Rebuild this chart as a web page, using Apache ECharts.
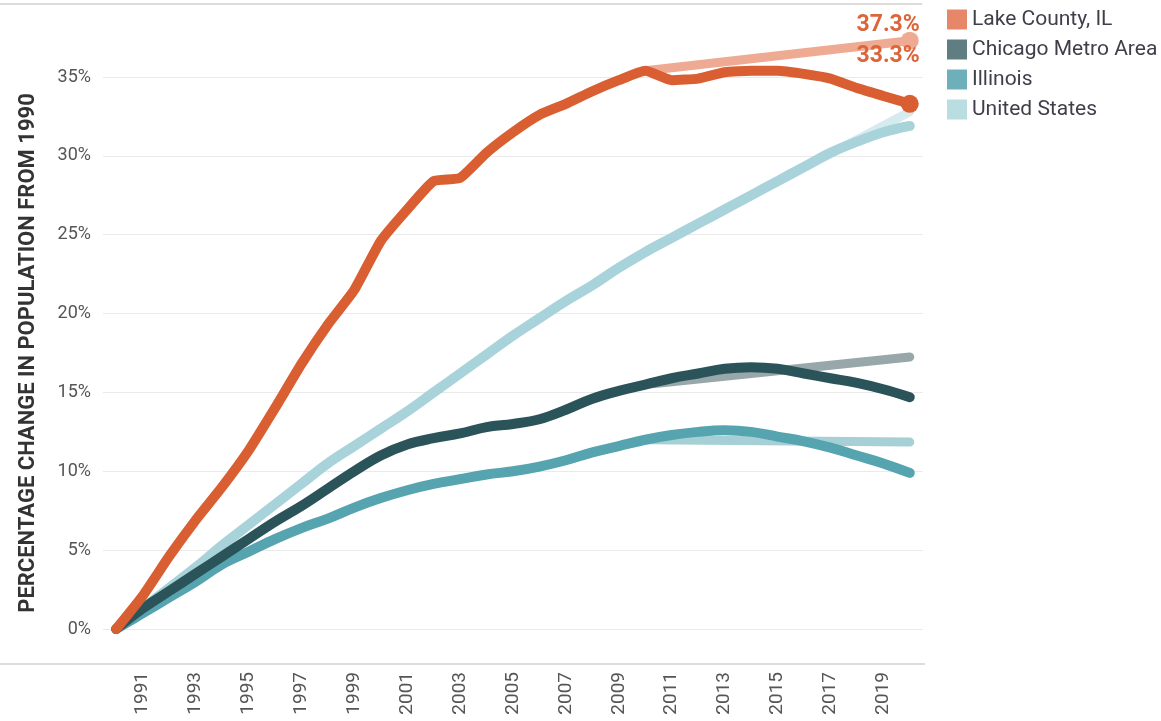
<!DOCTYPE html>
<html style="height: 100%">
<head>
    <meta charset="utf-8">
    <script type="text/javascript" src="https://cdn.jsdelivr.net/npm/echarts@6/dist/echarts.min.js"></script>
</head>
<body style="height: 100%; margin: 0; background: #fff">
<div id="container" style="height: 721px; width: 1161px"></div>
<script type="text/javascript">
    // years on the x axis
    var years = [];
    for (var y = 1990; y <= 2020; y++) years.push(String(y));

    // percent change in population since 1990
    var lakeCounty = [0, 2.1, 4.6, 6.9, 9.0, 11.3, 14.0, 16.8, 19.3, 21.5, 24.6, 26.6, 28.4, 28.6, 30.2, 31.5,
        32.6, 33.3, 34.1, 34.8, 35.4, 34.8, 34.9, 35.3, 35.4, 35.4, 35.2, 34.9, 34.3, 33.8, 33.3];
    var chicagoMetro = [0, 1.3, 2.4, 3.5, 4.6, 5.7, 6.8, 7.8, 8.9, 10.0, 11.0, 11.7, 12.1, 12.4, 12.8, 13.0,
        13.3, 13.9, 14.6, 15.1, 15.5, 15.9, 16.2, 16.5, 16.6, 16.5, 16.2, 15.9, 15.6, 15.2, 14.7];
    var illinois = [0, 1.0, 2.0, 3.0, 4.1, 4.9, 5.7, 6.4, 7.0, 7.7, 8.3, 8.8, 9.2, 9.5, 9.8, 10.0,
        10.3, 10.7, 11.2, 11.6, 12.0, 12.3, 12.5, 12.6, 12.5, 12.2, 11.9, 11.5, 11.0, 10.5, 9.9];
    var unitedStates = [0, 1.3, 2.6, 3.9, 5.3, 6.6, 7.9, 9.2, 10.5, 11.6, 12.7, 13.8, 15.0, 16.2, 17.4, 18.6,
        19.7, 20.8, 21.8, 22.9, 23.9, 24.8, 25.7, 26.6, 27.5, 28.4, 29.3, 30.2, 30.9, 31.5, 31.9];

    // projected trend from 2010 to 2020
    var projYears = ['2010', '2020'];
    var lakeProj = [35.4, 37.3];
    var chicagoProj = [15.5, 17.25];
    var illinoisProj = [12.0, 11.85];
    var usProj = [23.9, 32.8];

    var names = ['Lake County, IL', 'Chicago Metro Area', 'Illinois', 'United States'];
    var lineColors = ['#D95F32', '#2A5459', '#56A4AF', '#A9D3DA'];
    var projColors = ['#EEAA92', '#97A7AA', '#A6D0D6', '#D6EBEF'];
    var legendColors = ['#E7876A', '#5F7E82', '#6EB0BA', '#BADDE2'];

    var dom = document.getElementById('container');
    var myChart = echarts.init(dom);

    function pairs(xs, vs) {
        return xs.map(function (x, i) { return [x, vs[i]]; });
    }

    function endLabel(text, dy) {
        return {
            show: true,
            position: 'inside',
            align: 'right',
            verticalAlign: 'middle',
            offset: [10, dy],
            formatter: text,
            fontFamily: 'Roboto',
            fontWeight: 'bold',
            fontSize: 23,
            color: '#DC653A'
        };
    }

    // only the last point gets a dot
    function lastDot(count) {
        return function (val, params) {
            return params.dataIndex === count - 1 ? 18 : 0;
        };
    }

    function projSeries(i, vals, withDot) {
        var d = pairs(projYears, vals);
        if (withDot) {
            d[1] = {value: d[1], label: endLabel('37.3%', -15)};
        }
        return {
            name: names[i] + ' projection',
            type: 'line',
            data: d,
            z: 2,
            symbol: withDot ? 'circle' : 'none',
            symbolSize: lastDot(d.length),
            showAllSymbol: true,
            clip: false,
            itemStyle: {color: projColors[i]},
            lineStyle: {color: projColors[i], width: 9, cap: 'round', join: 'round'}
        };
    }

    function actualSeries(i, vals, smooth, z) {
        return {
            name: names[i],
            type: 'line',
            data: vals,
            z: z,
            smooth: smooth,
            symbol: 'none',
            clip: false,
            itemStyle: {color: lineColors[i]},
            lineStyle: {color: lineColors[i], width: 10, cap: 'round', join: 'round'}
        };
    }

    var lakeData = lakeCounty.slice();
    lakeData[lakeData.length - 1] = {
        value: lakeCounty[lakeCounty.length - 1],
        label: endLabel('33.3%', -48)
    };
    var lakeSeries = actualSeries(0, lakeData, 0.15, 10);
    lakeSeries.symbol = 'circle';
    lakeSeries.symbolSize = lastDot(lakeData.length);
    lakeSeries.showAllSymbol = true;

    var option = {
        animation: false,
        textStyle: {fontFamily: 'Roboto'},
        grid: {left: 103, right: 238, top: 77, bottom: 92},
        legend: {
            orient: 'vertical',
            left: 942,
            top: 4,
            icon: 'rect',
            itemWidth: 20,
            itemHeight: 20,
            itemGap: 9,
            selectedMode: false,
            textStyle: {fontSize: 21, lineHeight: 20, color: '#3F3F4A'},
            data: names.map(function (n, i) {
                return {name: n, itemStyle: {color: legendColors[i]}};
            })
        },
        xAxis: {
            type: 'category',
            data: years,
            boundaryGap: true,
            offset: 35,
            axisLine: {show: false},
            axisTick: {show: false},
            axisLabel: {
                rotate: 90,
                margin: 8,
                fontSize: 19,
                color: '#555',
                interval: function (idx) { return idx % 2 === 1; }
            }
        },
        yAxis: {
            type: 'value',
            min: 0,
            max: 35,
            interval: 5,
            name: 'PERCENTAGE CHANGE IN POPULATION FROM 1990',
            nameLocation: 'middle',
            nameRotate: 90,
            nameGap: 64,
            nameTextStyle: {fontSize: 22, fontWeight: 'bold', color: '#333'},
            axisLine: {show: false},
            axisTick: {show: false},
            axisLabel: {formatter: '{value}%', fontSize: 18, color: '#555', margin: 12},
            splitLine: {lineStyle: {color: '#EAEAEA', width: 1}}
        },
        graphic: [
            {type: 'line', shape: {x1: 0, y1: 4, x2: 922, y2: 4}, style: {stroke: '#D0D0D0', lineWidth: 1.5}},
            {type: 'line', shape: {x1: 0, y1: 664, x2: 925, y2: 664}, style: {stroke: '#D0D0D0', lineWidth: 1.5}}
        ],
        series: [
            projSeries(3, usProj, false),
            actualSeries(3, unitedStates, 0.4, 3),
            projSeries(2, illinoisProj, false),
            actualSeries(2, illinois, 0.4, 4),
            projSeries(1, chicagoProj, false),
            actualSeries(1, chicagoMetro, 0.4, 5),
            projSeries(0, lakeProj, true),
            lakeSeries
        ]
    };
    myChart.setOption(option);
</script>
</body>
</html>
